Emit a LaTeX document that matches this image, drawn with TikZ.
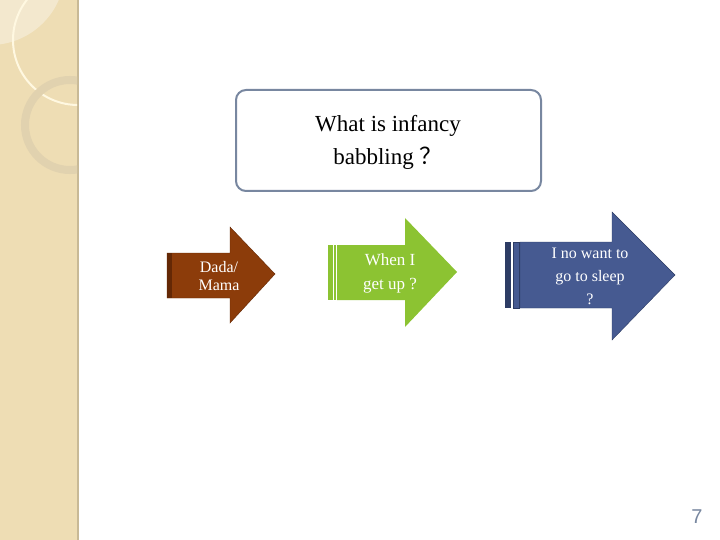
\documentclass[tikz,border=0pt]{standalone}
\usepackage{fontspec}
\setmainfont{Liberation Serif}
\setsansfont{Liberation Sans}
\newfontfamily\cjk{Noto Sans CJK SC}
\begin{document}
\begin{tikzpicture}[x=1pt,y=-1pt,
  txt/.style={font=\fontsize{16}{18}\selectfont,text=white,align=center}]
\useasboundingbox (0,0) rectangle (720,540);
\fill[white] (0,0) rectangle (720,540);
% sidebar
\fill[color={rgb,255:red,238;green,221;blue,180}] (0,0) rectangle (78,540);
\draw[color={rgb,255:red,200;green,185;blue,150},line width=1.2pt] (78,0) -- (78,540);
\begin{scope}
\clip (0,0) rectangle (77,540);
\fill[white,opacity=0.35] (-10,-30) circle (75);
\draw[color={rgb,255:red,255;green,248;blue,225},line width=2pt] (78,40) circle (65);
\draw[color={rgb,255:red,225;green,210;blue,175},line width=8pt] (70,125) circle (45);
\end{scope}
% title box
\draw[draw={rgb,255:red,120;green,135;blue,160},line width=2pt,rounded corners=10pt]
  (236,90) rectangle (541,191);
\node[font=\fontsize{23}{33}\selectfont,align=center] (title) at (388,142) {What is infancy\\babbling {\cjk ？}};
% arrows
\fill[color={rgb,255:red,140;green,60;blue,10},draw={rgb,255:red,100;green,40;blue,5}]
  (167,253) -- (230,253) -- (230,227) -- (275,274) -- (230,323) -- (230,298) -- (167,298) -- cycle;
\fill[color={rgb,255:red,100;green,40;blue,5}] (167,253) rectangle (172,298);
\node[txt] (a1) at (219,276) {Dada/\\Mama};
\fill[color={rgb,255:red,140;green,195;blue,50}]
  (337,245) -- (405,245) -- (405,218) -- (457,272) -- (405,327) -- (405,300) -- (337,300) -- cycle;
\fill[color={rgb,255:red,140;green,195;blue,50}] (328,245) rectangle (333,300);
\fill[color={rgb,255:red,140;green,195;blue,50}] (334,245) rectangle (336,300);
\node[txt,font=\fontsize{17}{24}\selectfont] (a2) at (390,273) {When I\\get up ?};
\fill[color={rgb,255:red,70;green,90;blue,145},draw={rgb,255:red,45;green,60;blue,100}]
  (520,242) -- (612,242) -- (612,212) -- (675,275) -- (612,340) -- (612,308) -- (520,308) -- cycle;
\fill[color={rgb,255:red,45;green,60;blue,100}] (505,242) rectangle (511,308);
\fill[color={rgb,255:red,70;green,90;blue,145},draw={rgb,255:red,45;green,60;blue,100}] (513,242) rectangle (519,308);
\node[txt,font=\fontsize{16}{23}\selectfont] (a3) at (590,276) {I no want to\\go to sleep\\?};
\node[font=\sffamily\fontsize{20}{24}\selectfont,text={rgb,255:red,120;green,135;blue,160}] (pn) at (697,517) {7};
\end{tikzpicture}
\end{document}
